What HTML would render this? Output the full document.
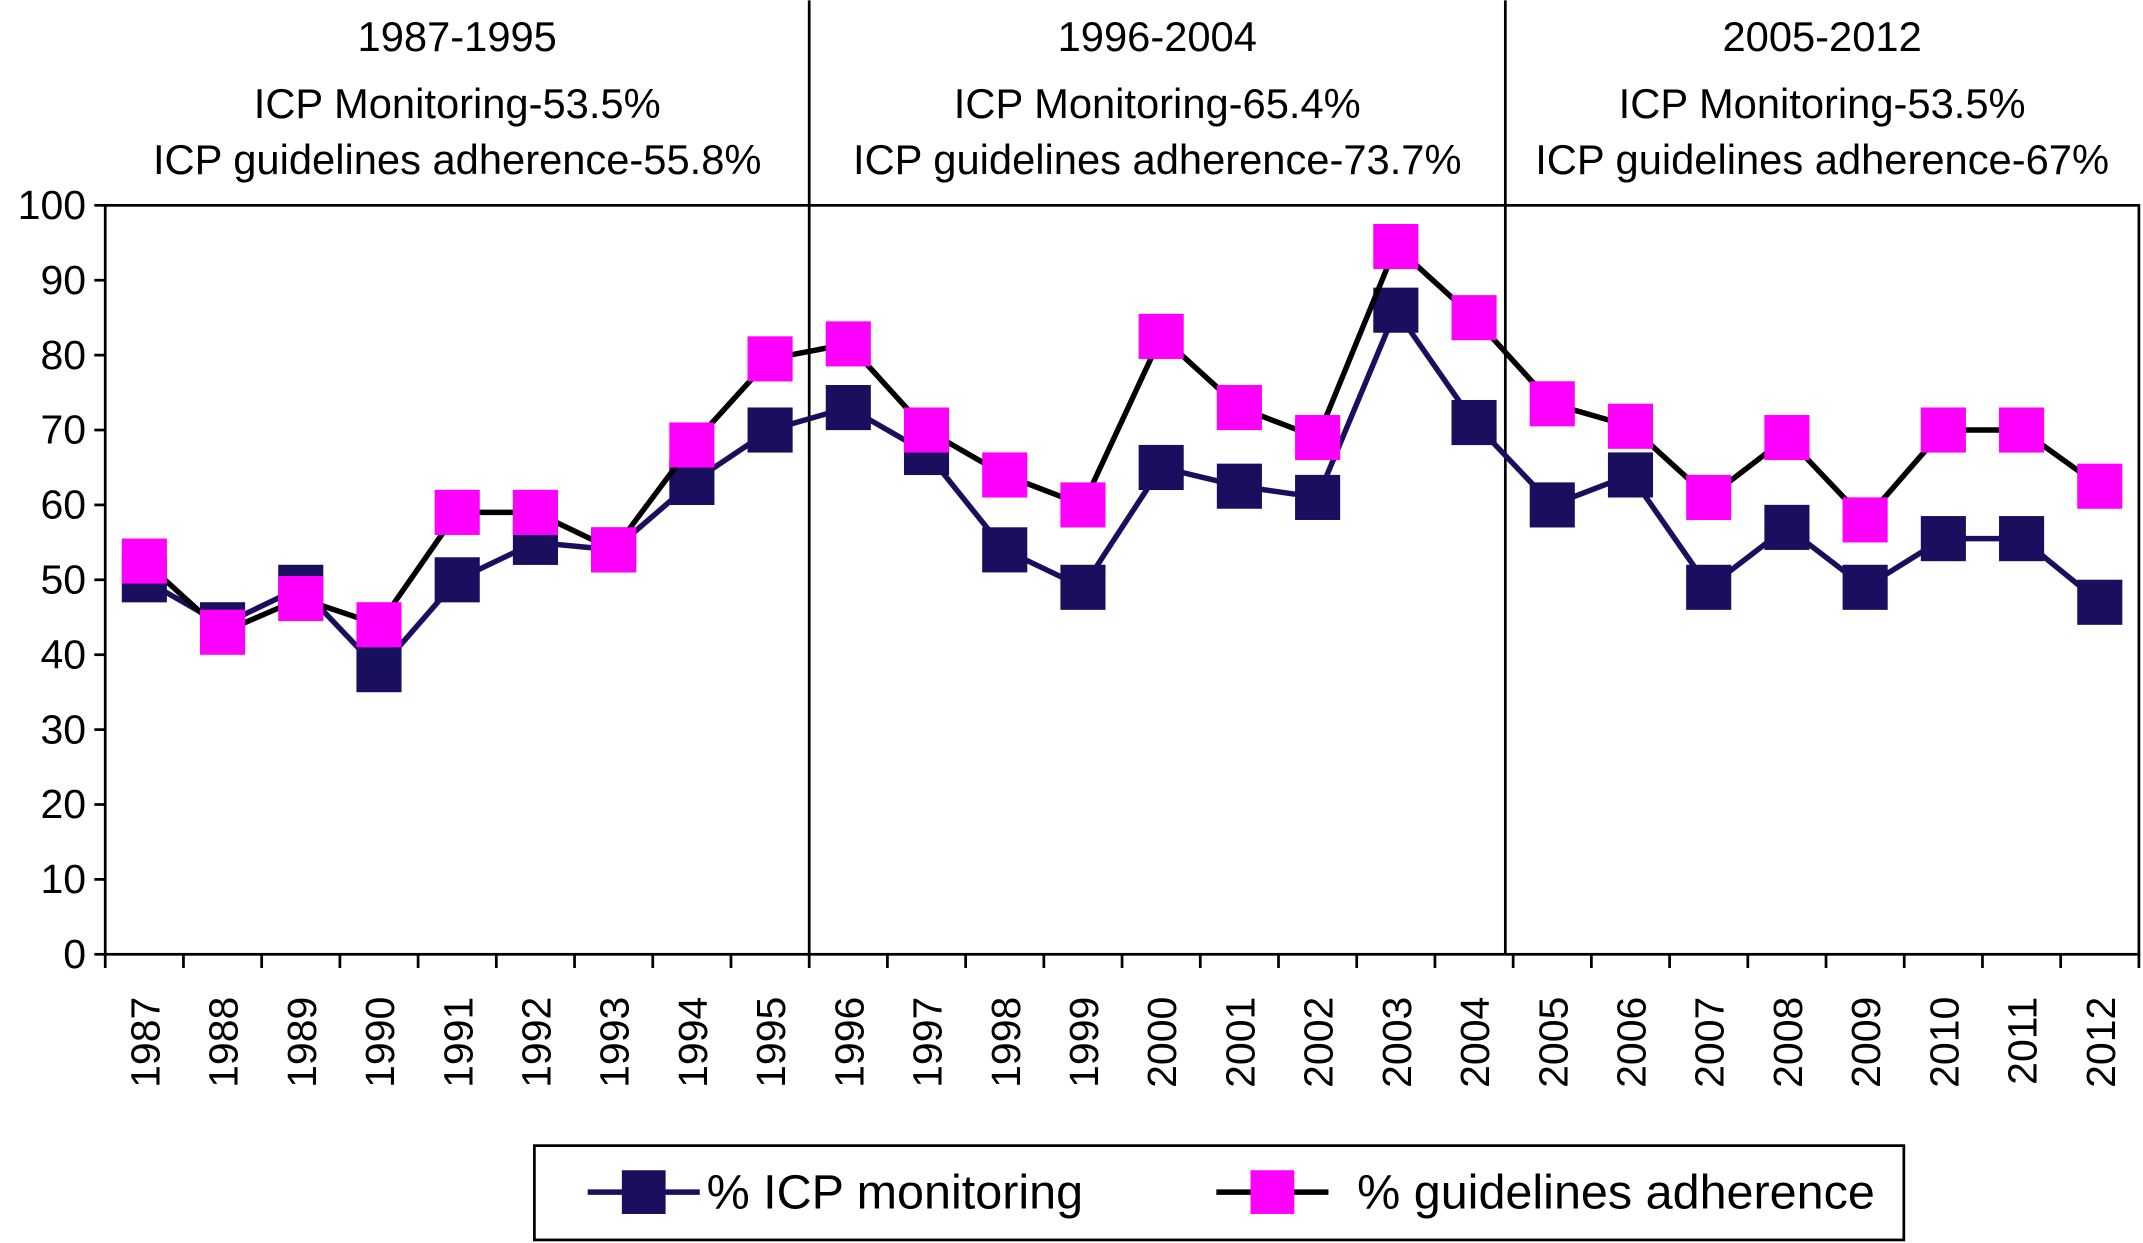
<!DOCTYPE html>
<html><head><meta charset="utf-8"><style>
html,body{margin:0;padding:0;background:#fff;}
svg{display:block;font-family:"Liberation Sans",sans-serif;}
</style></head><body>
<svg id="chart" width="2143" height="1243" viewBox="0 0 1568 909" xmlns="http://www.w3.org/2000/svg">
<g id="g"></g>
</svg>
<script>
const years = ["1987","1988","1989","1990","1991","1992","1993","1994","1995","1996","1997","1998","1999","2000","2001","2002","2003","2004","2005","2006","2007","2008","2009","2010","2011","2012"];
const icpMonitoring = [50,44,49,38,50,55,54,63,70,73,67,54,49,65,62.5,61,86,71,60,64,49,57,49,55.5,55.5,47];
const guidelinesAdherence = [52.5,43,47.5,44,59,59,54,68,79.5,81.5,70,64,60,82.5,73,69,94.5,85,73.5,70.5,61,69,58,70,70,62.5];
const yTicks = [0,10,20,30,40,50,60,70,80,90,100];
const periods = [
 {start:0,end:9,lines:["1987-1995","ICP Monitoring-53.5%","ICP guidelines adherence-55.8%"]},
 {start:9,end:17.9,lines:["1996-2004","ICP Monitoring-65.4%","ICP guidelines adherence-73.7%"]},
 {start:17.9,end:26,lines:["2005-2012","ICP Monitoring-53.5%","ICP guidelines adherence-67%"]}
];
const NS="http://www.w3.org/2000/svg";
const g=document.getElementById('g');
const L=77,R=1565,T=150,B=698;
const bw=(R-L)/years.length;
const x=i=>L+bw*(i+0.5);
const y=v=>B-(v/100)*(B-T);
function el(tag,attrs,parent){const e=document.createElementNS(NS,tag);for(const k in attrs)e.setAttribute(k,attrs[k]);(parent||g).appendChild(e);return e;}
const frame=el('rect',{x:L,y:T,width:R-L,height:B-T,fill:'none',stroke:'#000','stroke-width':2});


yTicks.forEach(v=>{
 const t=el('line',{x1:L-8,x2:L,y1:y(v),y2:y(v),stroke:'#000','stroke-width':2});
 
 
 const tx=el('text',{x:L-14,y:y(v)+10,'font-size':30,'text-anchor':'end',fill:'#000'});
 tx.textContent=v;
 
 
});
for(let i=0;i<=years.length;i++){
 const t=el('line',{x1:L+bw*i,x2:L+bw*i,y1:B,y2:B+10,stroke:'#000','stroke-width':2});
 
 
}
years.forEach((yr,i)=>{
 const tx=el('text',{x:0,y:0,'font-size':30,'text-anchor':'end',fill:'#000',transform:`translate(${x(i)+11},${729}) rotate(-90)`});
 tx.textContent=yr;
 
 
});
periods.forEach((p,k)=>{
 if(k>0){
  const d=el('line',{x1:L+bw*p.start,x2:L+bw*p.start,y1:0,y2:B,stroke:'#000','stroke-width':2});
  
  
 }
 const cx=(L+bw*p.start+L+bw*p.end)/2;
 [27,76,117].forEach((yy,j)=>{
  const tx=el('text',{x:cx,y:yy+10,'font-size':30.5,'text-anchor':'middle',fill:'#000'});
  tx.textContent=p.lines[j];
  
  
 });
});
const icpLine=el('polyline',{points:icpMonitoring.map((v,i)=>x(i)+','+y(v)).join(' '),fill:'none',stroke:'#1a0f5e','stroke-width':4});


icpMonitoring.forEach((v,i)=>{
 const m=el('rect',{x:x(i)-16.5,y:y(v)-16.5,width:33,height:33,fill:'#1a0f5e'});
 
 
});
const gLine=el('polyline',{points:guidelinesAdherence.map((v,i)=>x(i)+','+y(v)).join(' '),fill:'none',stroke:'#000','stroke-width':4});


guidelinesAdherence.forEach((v,i)=>{
 const m=el('rect',{x:x(i)-16.5,y:y(v)-16.5,width:33,height:33,fill:'#ff00ff'});
 
 
});
const lg=el('g',{});


el('rect',{x:391,y:838,width:1002,height:69,fill:'#fff',stroke:'#000','stroke-width':2},lg);
el('line',{x1:430,x2:512,y1:872,y2:872,stroke:'#1a0f5e','stroke-width':4},lg);
el('rect',{x:455,y:856,width:32,height:32,fill:'#1a0f5e'},lg);
const t1=el('text',{x:517,y:884,'font-size':35.5,fill:'#000'},lg);
t1.textContent='% ICP monitoring';


el('line',{x1:890,x2:972,y1:872,y2:872,stroke:'#000','stroke-width':4},lg);
el('rect',{x:915,y:856,width:32,height:32,fill:'#ff00ff'},lg);
const t2=el('text',{x:993,y:884,'font-size':35.5,fill:'#000'},lg);
t2.textContent='% guidelines adherence';


</script>
</body></html>
